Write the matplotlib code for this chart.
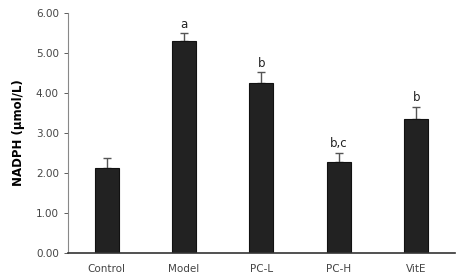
import matplotlib
matplotlib.use("Agg")
import matplotlib.pyplot as plt

categories = ["Control", "Model", "PC-L", "PC-H", "VitE"]
values = [2.12, 5.30, 4.25, 2.27, 3.34]
errors = [0.24, 0.19, 0.27, 0.23, 0.31]
letters = ["", "a", "b", "b,c", "b"]
yticks = [0, 1, 2, 3, 4, 5, 6]

fig = plt.figure(figsize=(4.59, 2.75), dpi=100)
ax = fig.add_axes([0.148, 0.08, 0.843, 0.874])

x = range(len(categories))
ax.bar(x, values, width=0.31, color="#222222", edgecolor="#111111", linewidth=0.8, zorder=2)
ax.errorbar(x, values, yerr=[[0]*len(values), errors], fmt="none", ecolor="#555555",
            elinewidth=1.0, capsize=3, capthick=1.0, zorder=1)
for xi, v, e, t in zip(x, values, errors, letters):
    if t:
        ax.text(xi, v + e + 0.06, t, ha="center", va="bottom", fontsize=8.5, color="#222222")

ax.set_xlim(-0.5, len(categories) - 0.5)
ax.set_ylim(0, 6)
ax.set_yticks(yticks)
ax.set_yticklabels([f"{t:.2f}" for t in yticks])
ax.set_xticks(list(x))
ax.set_xticklabels(categories)
ax.tick_params(axis="both", labelsize=7.5, colors="#444444", length=3, width=0.6)
ax.tick_params(axis="x", length=0, pad=8)
ax.set_ylabel("NADPH (μmol/L)", fontsize=8.5, fontweight="bold", labelpad=8)
for s in ["top", "right"]:
    ax.spines[s].set_visible(False)
ax.spines["left"].set_color("#888888")
ax.spines["left"].set_linewidth(0.8)
ax.spines["bottom"].set_color("#333333")
ax.spines["bottom"].set_linewidth(1.2)

fig.savefig("out.png", dpi=100)
